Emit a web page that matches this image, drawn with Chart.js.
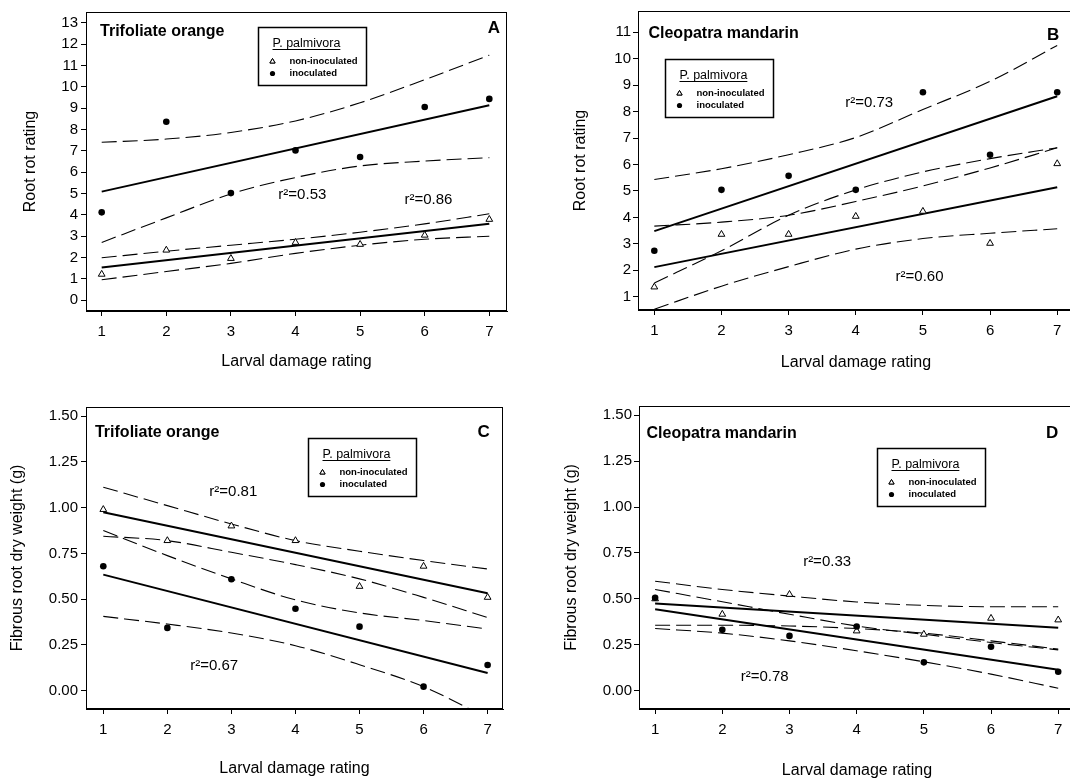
<!DOCTYPE html>
<html>
<head>
<meta charset="utf-8">
<title>Larval damage vs root rot and fibrous root weight</title>
<script src="https://cdn.jsdelivr.net/npm/chart.js@4.4.1/dist/chart.umd.min.js"></script>
<style>
  html, body { margin: 0; padding: 0; background: #fff; overflow: hidden; }
  #wrap { position: relative; width: 1070px; height: 781px; overflow: hidden; }
  canvas { position: absolute; }
</style>
</head>
<body>
<div id="wrap">
  <canvas id="panelA" width="535" height="380" style="left:0;top:0"></canvas>
  <canvas id="panelB" width="545" height="380" style="left:535px;top:0"></canvas>
  <canvas id="panelC" width="535" height="401" style="left:0;top:380px"></canvas>
  <canvas id="panelD" width="545" height="401" style="left:535px;top:380px"></canvas>
</div>
<script>
const ratings = [1, 2, 3, 4, 5, 6, 7];
const fitEnds = [1, 7];

// A - trifoliate orange, root rot rating
const rotTriNon = [1.22, 2.35, 1.96, 2.71, 2.62, 3.05, 3.79];
const rotTriInoc = [4.12, 8.36, 5.02, 7.02, 6.71, 9.05, 9.43];
const rotTriNonFit = [1.54, 3.58];
const rotTriInocFit = [5.09, 9.13];
const rotTriNonHi = [1.99, 2.30, 2.58, 2.86, 3.19, 3.58, 4.05];
const rotTriNonLo = [0.96, 1.35, 1.73, 2.20, 2.58, 2.86, 3.00];
const rotTriInocHi = [7.40, 7.55, 7.86, 8.40, 9.25, 10.33, 11.48];
const rotTriInocLo = [2.71, 3.86, 4.98, 5.75, 6.29, 6.52, 6.68];

// B - cleopatra mandarin, root rot rating
const rotCleoNon = [1.37, 3.36, 3.36, 4.04, 4.23, 3.02, 6.03];
const rotCleoInoc = [2.74, 5.04, 5.57, 5.04, 8.73, 6.37, 8.73];
const rotCleoNonFit = [2.12, 5.14];
const rotCleoInocFit = [3.48, 8.58];
const rotCleoNonHi = [3.67, 3.82, 4.08, 4.60, 5.19, 5.87, 6.63];
const rotCleoNonLo = [0.53, 1.40, 2.14, 2.80, 3.20, 3.40, 3.57];
const rotCleoInocHi = [5.43, 5.84, 6.37, 7.02, 8.08, 9.14, 10.50];
const rotCleoInocLo = [1.52, 2.74, 4.08, 5.04, 5.72, 6.22, 6.63];

// C - trifoliate orange, fibrous root dry weight
const wtTriNon = [0.99, 0.82, 0.90, 0.82, 0.57, 0.68, 0.51];
const wtTriInoc = [0.68, 0.343, 0.609, 0.448, 0.35, 0.022, 0.14];
const wtTriNonFit = [0.975, 0.532];
const wtTriInocFit = [0.634, 0.097];
const wtTriNonHi = [1.112, 1.011, 0.911, 0.82, 0.762, 0.711, 0.665];
const wtTriNonLo = [0.844, 0.82, 0.756, 0.689, 0.611, 0.51, 0.40];
const wtTriInocHi = [0.875, 0.738, 0.611, 0.496, 0.425, 0.383, 0.337];
const wtTriInocLo = [0.406, 0.364, 0.315, 0.246, 0.142, 0.022, -0.15];

// D - cleopatra mandarin, fibrous root dry weight
const wtCleoNon = [0.50, 0.416, 0.524, 0.325, 0.307, 0.394, 0.385];
const wtCleoInoc = [0.506, 0.331, 0.298, 0.349, 0.154, 0.239, 0.103];
const wtCleoNonFit = [0.474, 0.343];
const wtCleoInocFit = [0.443, 0.114];
const wtCleoNonHi = [0.596, 0.551, 0.515, 0.483, 0.464, 0.457, 0.457];
const wtCleoNonLo = [0.356, 0.356, 0.352, 0.338, 0.313, 0.271, 0.226];
const wtCleoInocHi = [0.551, 0.484, 0.416, 0.352, 0.307, 0.262, 0.222];
const wtCleoInocLo = [0.338, 0.313, 0.271, 0.217, 0.157, 0.09, 0.013];

const rotTicksTri = [0, 1, 2, 3, 4, 5, 6, 7, 8, 9, 10, 11, 12, 13];
const rotTicksCleo = [1, 2, 3, 4, 5, 6, 7, 8, 9, 10, 11];
const weightTickLabels = ['0.00', '0.25', '0.50', '0.75', '1.00', '1.25', '1.50'];
const weightTicks = weightTickLabels.map(Number);

const legendTitle = 'P. palmivora';
const legendLabels = ['non-inoculated', 'inoculated'];

const FONT = "'Liberation Sans', Arial, Helvetica, sans-serif";
Chart.defaults.font.family = FONT;
Chart.defaults.color = '#000';

function series(xs, ys) {
    return xs.map((x, i) => ({x: x, y: ys[i]}));
}

function buildSets(non, inoc, nonFit, inocFit, bands) {
    const sets = [];
    bands.forEach(b => {
        sets.push({
            data: series(ratings, b),
            showLine: true,
            borderColor: '#000',
            borderWidth: 1.1,
            borderDash: [15, 6],
            pointRadius: 0,
            cubicInterpolationMode: 'monotone',
            order: 3
        });
    });
    [nonFit, inocFit].forEach(f => {
        sets.push({
            data: series(fitEnds, f),
            showLine: true,
            borderColor: '#000',
            borderWidth: 2,
            pointRadius: 0,
            order: 2
        });
    });
    sets.push({
        data: series(ratings, non),
        pointStyle: 'triangle',
        pointRadius: 3.9,
        backgroundColor: '#fff',
        borderColor: '#000',
        borderWidth: 1,
        order: 1
    });
    sets.push({
        data: series(ratings, inoc),
        pointStyle: 'circle',
        pointRadius: 3.3,
        backgroundColor: '#000',
        borderColor: '#000',
        borderWidth: 0,
        order: 0
    });
    return sets;
}

// frame, panel titles, r^2 notes and the little legend box
const decor = {
    id: 'decor',
    afterDraw(chart, args, o) {
        const {ctx, chartArea: a} = chart;
        const sx = chart.scales.x, sy = chart.scales.y;
        ctx.save();
        ctx.strokeStyle = '#000';
        ctx.lineWidth = 1;
        ctx.strokeRect(a.left + 0.5, a.top + 0.5, a.right - a.left - 1, a.bottom - a.top - 1);

        ctx.fillStyle = '#000';
        ctx.textBaseline = 'middle';
        ctx.font = 'bold 16px ' + FONT;
        ctx.textAlign = 'left';
        ctx.fillText(o.title[0], sx.getPixelForValue(o.title[1]), sy.getPixelForValue(o.title[2]));
        ctx.font = 'bold 17px ' + FONT;
        ctx.textAlign = 'right';
        ctx.fillText(o.letter[0], sx.getPixelForValue(o.letter[1]), sy.getPixelForValue(o.letter[2]));

        ctx.font = '15px ' + FONT;
        ctx.textAlign = 'center';
        o.notes.forEach(n => {
            ctx.fillText(n[0], sx.getPixelForValue(n[1]), sy.getPixelForValue(n[2]));
        });

        // legend
        const bx = Math.round(sx.getPixelForValue(o.legend[0])) + 0.5;
        const by = Math.round(sy.getPixelForValue(o.legend[1])) + 0.5;
        ctx.lineWidth = 1.5;
        ctx.strokeRect(bx, by, 108, 58);
        ctx.textAlign = 'left';
        ctx.font = '12.5px ' + FONT;
        ctx.fillText(legendTitle, bx + 14, by + 16);
        const tw = ctx.measureText(legendTitle).width;
        ctx.lineWidth = 1;
        ctx.beginPath();
        ctx.moveTo(bx + 14, by + 22);
        ctx.lineTo(bx + 14 + tw, by + 22);
        ctx.stroke();
        ctx.font = 'bold 9.5px ' + FONT;
        ctx.fillText(legendLabels[0], bx + 31, by + 34);
        ctx.fillText(legendLabels[1], bx + 31, by + 46);
        ctx.fillStyle = '#fff';
        Chart.helpers.drawPoint(ctx, {pointStyle: 'triangle', radius: 3, rotation: 0, borderWidth: 1}, bx + 14, by + 34);
        ctx.fill();
        ctx.stroke();
        ctx.fillStyle = '#000';
        ctx.beginPath();
        ctx.arc(bx + 14, by + 46, 2.6, 0, Math.PI * 2);
        ctx.fill();
        ctx.restore();
    }
};

function makePanel(id, p) {
    const tickFont = {size: 15};
    return new Chart(document.getElementById(id), {
        type: 'scatter',
        data: {datasets: p.datasets},
        plugins: [decor],
        options: {
            responsive: false,
            animation: false,
            events: [],
            layout: {padding: p.pad},
            plugins: {
                legend: {display: false},
                tooltip: {enabled: false},
                decor: p.decor
            },
            scales: {
                x: {
                    type: 'linear',
                    min: p.xr[0],
                    max: p.xr[1],
                    afterBuildTicks: s => { s.ticks = ratings.map(v => ({value: v})); },
                    afterFit: s => { s.height = p.xh; },
                    grid: {display: true, drawOnChartArea: false, drawTicks: true, tickLength: 5, color: '#000'},
                    border: {display: true, color: '#000', width: 1},
                    ticks: {font: tickFont, padding: 7, maxRotation: 0},
                    title: {display: true, text: 'Larval damage rating', font: {size: 16}, padding: {top: 0, bottom: 0}}
                },
                y: {
                    type: 'linear',
                    min: p.yr[0],
                    max: p.yr[1],
                    afterBuildTicks: s => { s.ticks = p.yTicks.map(v => ({value: v})); },
                    afterFit: s => { s.width = p.yw; },
                    grid: {display: true, drawOnChartArea: false, drawTicks: true, tickLength: 5, color: '#000'},
                    border: {display: true, color: '#000', width: 1},
                    ticks: {font: tickFont, padding: p.yPad, callback: p.yFmt},
                    title: {display: true, text: p.yTitle, font: {size: 16}, padding: {top: p.yTitlePad, bottom: 0}}
                }
            }
        }
    });
}

const weightFmt = v => weightTickLabels[weightTicks.indexOf(v)];

makePanel('panelA', {
    datasets: buildSets(rotTriNon, rotTriInoc, rotTriNonFit, rotTriInocFit,
        [rotTriNonHi, rotTriNonLo, rotTriInocHi, rotTriInocLo]),
    pad: {left: 0, top: 8, right: 28, bottom: 9},
    xr: [0.757, 7.274], yr: [-0.5, 13.5], xh: 60, yw: 86,
    yTicks: rotTicksTri, yPad: 3, yTitle: 'Root rot rating', yTitlePad: 21,
    decor: {
        title: ['Trifoliate orange', 0.974, 12.57],
        letter: ['A', 7.166, 12.72],
        notes: [['r\u00b2=0.53', 4.106, 4.935], ['r\u00b2=0.86', 6.057, 4.70]],
        legend: [3.425, 12.8]
    }
});

makePanel('panelB', {
    datasets: buildSets(rotCleoNon, rotCleoInoc, rotCleoNonFit, rotCleoInocFit,
        [rotCleoNonHi, rotCleoNonLo, rotCleoInocHi, rotCleoInocLo]),
    pad: {left: 0, top: 7, right: 6, bottom: 8},
    xr: [0.757, 7.25], yr: [0.5, 11.8], xh: 62, yw: 103,
    yTicks: rotTicksCleo, yPad: 2, yTitle: 'Root rot rating', yTitlePad: 36,
    decor: {
        title: ['Cleopatra mandarin', 0.913, 10.94],
        letter: ['B', 7.03, 10.88],
        notes: [['r\u00b2=0.73', 4.20, 8.33], ['r\u00b2=0.60', 4.95, 1.75]],
        legend: [1.158, 10.0]
    }
});

makePanel('panelC', {
    datasets: buildSets(wtTriNon, wtTriInoc, wtTriNonFit, wtTriInocFit,
        [wtTriNonHi, wtTriNonLo, wtTriInocHi, wtTriInocLo]),
    pad: {left: 0, top: 27, right: 32, bottom: 3},
    xr: [0.73, 7.24], yr: [-0.1, 1.55], xh: 69, yw: 86,
    yTicks: weightTicks, yFmt: weightFmt, yPad: 3, yTitle: 'Fibrous root dry weight (g)', yTitlePad: 8,
    decor: {
        title: ['Trifoliate orange', 0.87, 1.4125],
        letter: ['C', 7.035, 1.41],
        notes: [['r\u00b2=0.81', 3.03, 1.084], ['r\u00b2=0.67', 2.73, 0.137]],
        legend: [4.2, 1.38]
    }
});

makePanel('panelD', {
    datasets: buildSets(wtCleoNon, wtCleoInoc, wtCleoNonFit, wtCleoInocFit,
        [wtCleoNonHi, wtCleoNonLo, wtCleoInocHi, wtCleoInocLo]),
    pad: {left: 0, top: 26, right: 5, bottom: 1},
    xr: [0.76, 7.25], yr: [-0.1, 1.55], xh: 71, yw: 104,
    yTicks: weightTicks, yFmt: weightFmt, yPad: 2, yTitle: 'Fibrous root dry weight (g)', yTitlePad: 27,
    decor: {
        title: ['Cleopatra mandarin', 0.872, 1.40],
        letter: ['D', 7.0, 1.40],
        notes: [['r\u00b2=0.33', 3.56, 0.70], ['r\u00b2=0.78', 2.63, 0.076]],
        legend: [4.31, 1.323]
    }
});
</script>
</body>
</html>
